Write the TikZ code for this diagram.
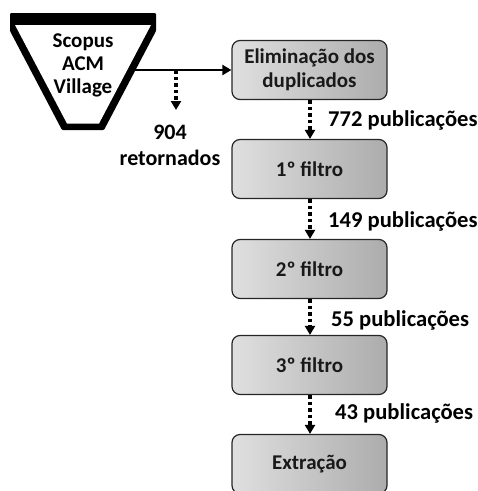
\documentclass[tikz,border=0pt]{standalone}
\usepackage{fontspec}
\setmainfont{Carlito}
\usetikzlibrary{arrows.meta}
\begin{document}
\begin{tikzpicture}[x={(1pt,0)},y={(0,-1pt)},
  stepbox/.style={draw=black!85,line width=1.2pt,rounded corners=8pt,minimum width=155pt,minimum height=59pt,
    left color=gray!25,right color=gray!65,align=center,inner sep=0pt,
    font=\fontsize{21}{24}\selectfont\bfseries,text=black!90},
  lbl/.style={font=\fontsize{22.6}{24}\selectfont\bfseries,anchor=west,inner sep=0pt},
  dotarrow/.style={line width=3.2pt,dash pattern=on 3.5pt off 3pt,-{Triangle[length=9pt,width=10pt]}},
  solidarrow/.style={line width=2.4pt,-{Triangle[length=9pt,width=10pt]}}]
\useasboundingbox (0,0) rectangle (478,491);
% funnel
\fill[black,rounded corners=1pt] (10,13) -- (156,13) -- (156,31) -- (104,130) -- (62,130) -- (10,31) -- cycle;
\fill[white] (15,25) -- (151,25) -- (99,123.5) -- (67,123.5) -- cycle;
\node[align=center,inner sep=0pt,font=\fontsize{21}{23}\selectfont\bfseries] (src) at (83,65) {Scopus\\ACM\\Village};
\coordinate (fr) at (133,70);
\coordinate (split) at (176,70);
\coordinate (ret) at (176,110);
\node[inner sep=0pt,align=center,font=\fontsize{22}{26}\selectfont\bfseries] (n904) at (170,145) {904\\retornados};
% boxes
\node[stepbox] (b1) at (309.5,70) {Eliminação dos\\duplicados};
\node[stepbox] (b2) at (309.5,169) {1º filtro};
\node[stepbox] (b3) at (309.5,269) {2º filtro};
\node[stepbox] (b4) at (309.5,365) {3º filtro};
\node[stepbox] (b5) at (309.5,464) {Extração};
% arrows
\draw[solidarrow] (fr) -- (b1.west);
\draw[dotarrow] (split) -- (ret);
\draw[dotarrow] (b1.south -| 310,0) -- (b2.north -| 310,0);
\draw[dotarrow] (b2.south -| 310,0) -- (b3.north -| 310,0);
\draw[dotarrow] (b3.south -| 310,0) -- (b4.north -| 310,0);
\draw[dotarrow] (b4.south -| 310,0) -- (b5.north -| 310,0);
% labels
\node[lbl] (l1) at (328,120) {772 publicações};
\node[lbl] (l2) at (328,221) {149 publicações};
\node[lbl] (l3) at (331,320) {55 publicações};
\node[lbl] (l4) at (335,413) {43 publicações};
\end{tikzpicture}
\end{document}
